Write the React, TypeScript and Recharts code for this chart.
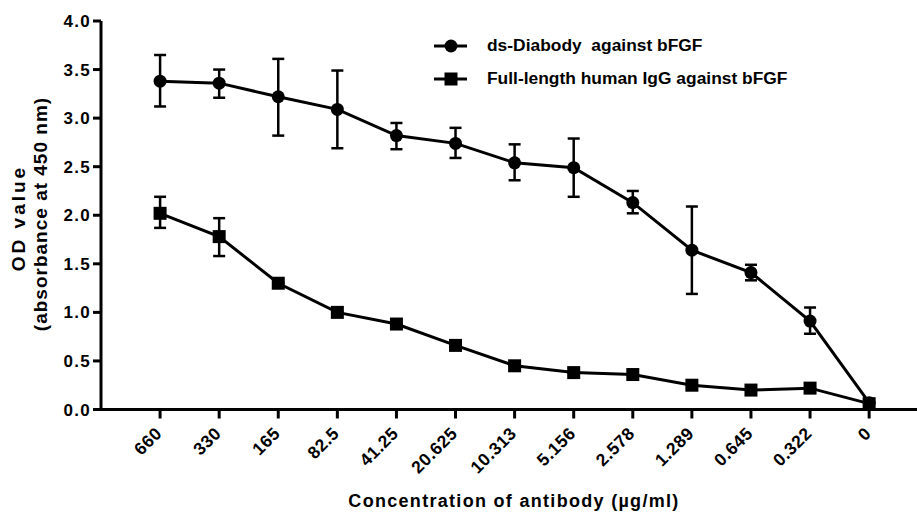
import React from 'react';
import { LineChart, Line, XAxis, YAxis, ErrorBar, Legend } from 'recharts';

const concentrations = ['660', '330', '165', '82.5', '41.25', '20.625', '10.313', '5.156', '2.578', '1.289', '0.645', '0.322', '0'];

const diabodyMean = [3.38, 3.36, 3.22, 3.09, 2.82, 2.74, 2.54, 2.49, 2.13, 1.64, 1.41, 0.91, 0.07];
const diabodyUpper = [3.65, 3.5, 3.61, 3.49, 2.95, 2.9, 2.73, 2.79, 2.25, 2.09, 1.49, 1.05, null];
const diabodyLower = [3.12, 3.21, 2.82, 2.69, 2.68, 2.59, 2.36, 2.19, 2.02, 1.19, 1.33, 0.78, null];

const iggMean = [2.02, 1.78, 1.3, 1.0, 0.88, 0.66, 0.45, 0.38, 0.36, 0.25, 0.2, 0.22, 0.06];
const iggUpper = [2.19, 1.97, null, null, null, null, null, null, null, null, null, null, null];
const iggLower = [1.87, 1.58, null, null, null, null, null, null, null, null, null, null, null];

const yTicks = [0, 0.5, 1, 1.5, 2, 2.5, 3, 3.5, 4];

const FONT = 'Arial, "Liberation Sans", Helvetica, sans-serif';

const errOf = (m: number, lo: number | null, hi: number | null) =>
  lo == null || hi == null ? [0, 0] : [m - lo, hi - m];

const data = concentrations.map((c, i) => ({
  idx: i,
  label: c,
  diabody: diabodyMean[i],
  diabodyErr: errOf(diabodyMean[i], diabodyLower[i], diabodyUpper[i]),
  igg: iggMean[i],
  iggErr: errOf(iggMean[i], iggLower[i], iggUpper[i]),
}));

const XTick = (props: any) => {
  const { x, y, payload } = props;
  const px = x + 3;
  const py = y + 14;
  return (
    <text
      x={px}
      y={py}
      transform={`rotate(-45, ${px}, ${py})`}
      textAnchor="end"
      fill="#000"
      fontSize={17.5}
      fontWeight="bold"
      fontFamily={FONT}
      letterSpacing={0.5}
    >
      {concentrations[payload.value]}
    </text>
  );
};

const YLabel = () => (
  <g fontFamily={FONT} fontWeight="bold" fontSize={19} fill="#000">
    <text x={25} y={218} transform="rotate(-90, 25, 218)" textAnchor="middle" letterSpacing={3}>
      OD value
    </text>
    <text x={47} y={214} transform="rotate(-90, 47, 214)" textAnchor="middle" letterSpacing={1}>
      (absorbance at 450 nm)
    </text>
  </g>
);

const XLabel = () => (
  <text
    x={514}
    y={507}
    textAnchor="middle"
    fill="#000"
    fontSize={18}
    fontWeight="bold"
    fontFamily={FONT}
    letterSpacing={1.3}
  >
    Concentration of antibody (µg/ml)
  </text>
);

const SquareDot = (props: any) => {
  const { cx, cy, index } = props;
  return <rect key={`sq-${index}`} x={cx - 6.5} y={cy - 6.5} width={13} height={13} fill="#000" />;
};

const LegendContent = () => (
  <div style={{ fontFamily: FONT, fontWeight: 'bold', fontSize: 17.4, color: '#000' }}>
    <div style={{ display: 'flex', alignItems: 'center', height: 33 }}>
      <svg width={53} height={20}>
        <line x1={0} y1={10} x2={33} y2={10} stroke="#000" strokeWidth={3} />
        <circle cx={17} cy={10} r={6.5} fill="#000" />
      </svg>
      <span style={{ whiteSpace: 'pre' }}>ds-Diabody  against bFGF</span>
    </div>
    <div style={{ display: 'flex', alignItems: 'center', height: 33 }}>
      <svg width={53} height={20}>
        <line x1={0} y1={10} x2={33} y2={10} stroke="#000" strokeWidth={3} />
        <rect x={10.5} y={3.5} width={13} height={13} fill="#000" />
      </svg>
      <span>Full-length human IgG against bFGF</span>
    </div>
  </div>
);

export default function App() {
  return (
    <div style={{ position: 'absolute', left: 0, top: 0, background: '#fff' }}>
      <LineChart width={917} height={513} data={data} margin={{ top: 21, right: 0, bottom: 0, left: 0 }}>
        <XAxis
          dataKey="idx"
          type="number"
          domain={[-1, 12.81]}
          ticks={[0, 1, 2, 3, 4, 5, 6, 7, 8, 9, 10, 11, 12]}
          allowDataOverflow
          height={103.5}
          tickSize={9}
          tick={<XTick />}
          axisLine={{ stroke: '#000', strokeWidth: 3 }}
          tickLine={{ stroke: '#000', strokeWidth: 3 }}
          label={<XLabel />}
        />
        <YAxis
          type="number"
          domain={[0, 4]}
          ticks={yTicks}
          width={101}
          tickSize={8}
          tickFormatter={(v: number) => v.toFixed(1)}
          tick={{ fill: '#000', fontSize: 17, fontWeight: 'bold', fontFamily: FONT, letterSpacing: 1.3 }}
          axisLine={{ stroke: '#000', strokeWidth: 3 }}
          tickLine={{ stroke: '#000', strokeWidth: 3 }}
          label={<YLabel />}
        />
        <Legend
          verticalAlign="middle"
          align="center"
          layout="horizontal"
          content={<LegendContent />}
          wrapperStyle={{ left: 434, top: 29, width: 470 }}
        />
        <Line
          type="linear"
          dataKey="diabody"
          stroke="#000"
          strokeWidth={3}
          dot={{ r: 6.5, fill: '#000', stroke: '#000', strokeWidth: 0 }}
          activeDot={false}
          isAnimationActive={false}
        >
          <ErrorBar dataKey="diabodyErr" direction="y" width={6} stroke="#000" strokeWidth={2.5} />
        </Line>
        <Line
          type="linear"
          dataKey="igg"
          stroke="#000"
          strokeWidth={3}
          dot={<SquareDot />}
          activeDot={false}
          isAnimationActive={false}
        >
          <ErrorBar dataKey="iggErr" direction="y" width={6} stroke="#000" strokeWidth={2.5} />
        </Line>
      </LineChart>
    </div>
  );
}
